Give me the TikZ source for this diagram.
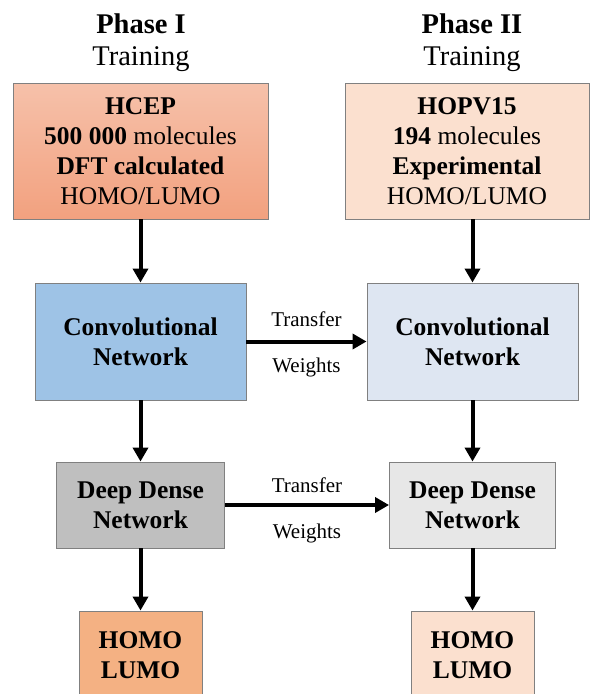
\documentclass[tikz,border=0pt]{standalone}
\usepackage{fontspec}
\setmainfont{Liberation Serif}
\usetikzlibrary{
  arrows.meta,
  positioning,  % Function "of" and "above=..."
}
\definecolor{hcepTop}{RGB}{246,193,170}
\definecolor{hcepBot}{RGB}{242,161,127}
\definecolor{hopvFill}{RGB}{251,224,207}
\definecolor{convDark}{RGB}{158,195,230}
\definecolor{convLight}{RGB}{222,230,242}
\definecolor{denseDark}{RGB}{191,191,191}
\definecolor{denseLight}{RGB}{231,231,231}
\definecolor{outDark}{RGB}{244,177,131}
\definecolor{boxLine}{RGB}{128,128,128}
\newcommand{\boxfont}{\fontsize{25.5}{30}\selectfont}
\newcommand{\md}[1]{\textmd{#1}}
\tikzset{
  >={Triangle[length=14pt,width=15pt]},
  my box/.style={
    draw=boxLine,
    line width=0.9pt,
    inner sep=0pt,
    align=center,
    font=\boxfont\bfseries
  },
  my flow/.style={
    ->,
    line width=4pt
  },
  my title/.style={
    anchor=base,
    font=\fontsize{28.5}{32}\selectfont
  },
  my label/.style={
    inner sep=0pt,
    font=\fontsize{21}{24}\selectfont
  }
}
\begin{document}
\begin{tikzpicture}[x=1pt,y=-1pt]
\useasboundingbox (0,0) rectangle (590,694);
\clip (0,0) rectangle (590,694);
% headings
\node[my title,font=\fontsize{28.5}{32}\selectfont\bfseries] (phaseA) at (141,33) {Phase I};
\node[my title] (trainA) at (141,65) {Training};
\node[my title,font=\fontsize{28.5}{32}\selectfont\bfseries] (phaseB) at (472,33) {Phase II};
\node[my title] (trainB) at (472,65) {Training};
% phase I
\node[my box,top color=hcepTop,bottom color=hcepBot,
  minimum width=255pt,minimum height=136pt] (hcep) at (140.5,151)
  {HCEP\\500 000 \md{molecules}\\DFT calculated\\\md{HOMO/LUMO}};
\node[my box,fill=convDark,minimum width=211pt,minimum height=117pt] (convA) at (140.5,341.5)
  {Convolutional\\Network};
\node[my box,fill=denseDark,minimum width=168pt,minimum height=86pt] (denseA) at (140.5,505)
  {Deep Dense\\Network};
\node[my box,fill=outDark,minimum width=123pt,minimum height=88pt] (outA) at (140.5,655)
  {HOMO\\LUMO};
% phase II
\node[my box,fill=hopvFill,minimum width=244pt,minimum height=136pt] (hopv) at (467,151)
  {HOPV15\\194 \md{molecules}\\Experimental\\\md{HOMO/LUMO}};
\node[my box,fill=convLight,minimum width=211pt,minimum height=117pt] (convB) at (472.5,341.5)
  {Convolutional\\Network};
\node[my box,fill=denseLight,minimum width=166pt,minimum height=86pt] (denseB) at (472.5,505)
  {Deep Dense\\Network};
\node[my box,fill=hopvFill,minimum width=123pt,minimum height=88pt] (outB) at (472.5,655)
  {HOMO\\LUMO};
% arrows
\path[my flow]
  (hcep)   edge (convA)
  (convA)  edge (denseA)
  (denseA) edge (outA)
  (convB)  edge (denseB)
  (denseB) edge (outB)
  (convA)  edge node[my label,above=13pt] (transA) {Transfer}
                node[my label,below=14pt] (weightA) {Weights} (convB)
  (denseA) edge node[my label,above=10pt] (transB) {Transfer}
                node[my label,below=17pt] (weightB) {Weights} (denseB);
\draw[my flow] (hopv.south -| convB.north) -- (convB);
\end{tikzpicture}
\end{document}
